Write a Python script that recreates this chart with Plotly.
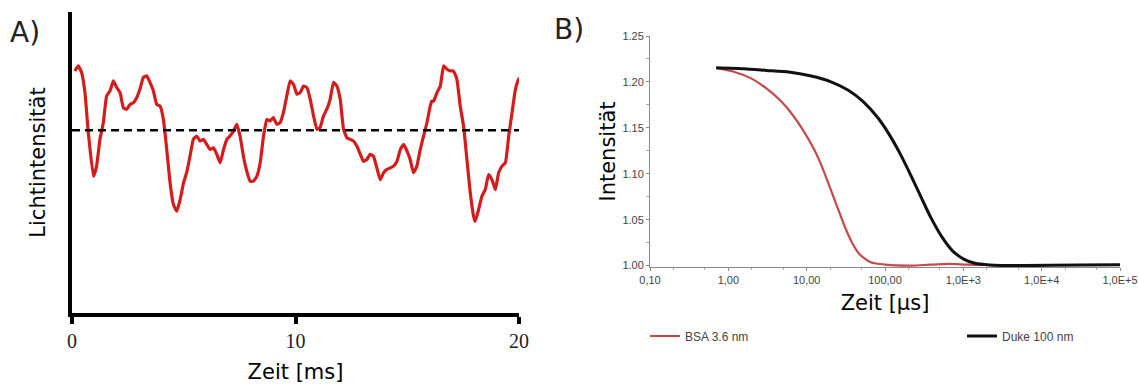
import plotly.graph_objects as go

# ---------------- Panel A data ----------------
time_ms = [0.13, 0.28, 0.43, 0.58, 0.73, 0.96, 1.10, 1.25, 1.40, 1.55, 1.70, 1.85, 2.00, 2.15, 2.30, 2.45,
           2.60, 2.75, 2.90, 3.04, 3.19, 3.34, 3.49, 3.64, 3.79, 3.94, 4.09, 4.24, 4.39, 4.54, 4.69, 4.84,
           4.99, 5.13, 5.28, 5.43, 5.58, 5.73, 5.88, 6.03, 6.18, 6.33, 6.48, 6.63, 6.78, 6.93, 7.07, 7.22,
           7.37, 7.52, 7.67, 7.82, 7.97, 8.12, 8.27, 8.42, 8.57, 8.72, 8.87, 9.01, 9.16, 9.31, 9.46, 9.61,
           9.76, 9.91, 10.06, 10.21, 10.36, 10.51, 10.66, 10.81, 10.96, 11.10, 11.25, 11.40, 11.55, 11.70,
           11.85, 12.00, 12.15, 12.30, 12.45, 12.60, 12.75, 12.90, 13.04, 13.19, 13.34, 13.49, 13.64, 13.79,
           13.94, 14.09, 14.24, 14.39, 14.54, 14.69, 14.84, 14.99, 15.13, 15.28, 15.43, 15.58, 15.73, 15.88,
           16.03, 16.10, 16.18, 16.33, 16.48, 16.63, 16.78, 16.93, 17.07, 17.22, 17.37, 17.52, 17.67, 17.82,
           17.97, 18.04, 18.19, 18.34, 18.49, 18.64, 18.79, 18.94, 19.09, 19.24, 19.39, 19.54, 19.69, 19.84,
           19.99, 20.06]
light_intensity = [8.04, 8.21, 7.99, 7.32, 5.99, 4.54, 4.88, 5.77, 6.32, 7.21, 7.38, 7.71, 7.49, 7.32, 6.82, 6.77,
                   6.93, 6.99, 7.16, 7.43, 7.82, 7.88, 7.66, 7.38, 6.93, 6.88, 6.43, 5.43, 4.32, 3.60, 3.38, 3.77,
                   4.32, 4.66, 5.21, 5.77, 5.88, 5.71, 5.77, 5.60, 5.43, 5.49, 5.27, 4.99, 5.43, 5.77, 5.88, 6.04,
                   6.27, 5.88, 5.21, 4.71, 4.38, 4.38, 4.54, 4.99, 5.88, 6.43, 6.38, 6.49, 6.27, 6.32, 6.66, 7.21,
                   7.71, 7.60, 7.27, 7.32, 7.54, 7.49, 7.10, 6.54, 6.10, 6.16, 6.54, 6.77, 7.10, 7.66,
                   7.54, 7.10, 6.10, 5.82, 5.77, 5.71, 5.54, 5.27, 5.04, 5.10, 5.27, 5.21, 4.82, 4.43,
                   4.66, 4.77, 4.82, 4.88, 5.04, 5.43, 5.60, 5.38, 5.10, 4.66, 4.88, 5.43, 5.88, 6.32,
                   6.88, 7.04, 7.04, 7.32, 7.54, 8.21, 8.10, 8.04, 8.04, 7.77, 6.88, 6.21, 5.10, 3.99,
                   3.21, 3.04, 3.43, 3.88, 4.10, 4.60, 4.43, 4.10, 4.66, 4.88, 4.99, 5.88, 6.66, 7.43,
                   7.77, 7.82]
mean_time = [0, 20]
mean_intensity = [6.07, 6.07]
a_ticks = [0, 10, 20]

# ---------------- Panel B data ----------------
bsa_t = [0.70, 1.15, 1.98, 3.07, 4.75, 6.6, 9.16, 12.7, 15.8, 19.7, 24.5, 30.5, 38, 47.3, 65.6,
         101.6, 219, 378, 653, 1122, 2187]
bsa_i = [1.215, 1.2114, 1.2036, 1.1929, 1.1786, 1.1643, 1.1464, 1.125, 1.107, 1.0857, 1.0643, 1.0429,
         1.025, 1.0125, 1.0036, 1.001, 1.000, 1.001, 1.0018, 1.001, 1.0007]
duke_t = [0.70, 1.59, 3.07, 5.9, 11.4, 19.7, 34, 52.7, 81.6, 113, 157, 219, 287, 378, 525, 728, 1011,
          1403, 2173, 5821, 30000, 100000]
duke_i = [1.2154, 1.2143, 1.2125, 1.2107, 1.2064, 1.2007, 1.191, 1.1786, 1.1607, 1.1429, 1.1214, 1.0964,
          1.075, 1.0536, 1.0321, 1.0161, 1.0071, 1.0025, 1.0007, 1.000, 1.0007, 1.001]
b_xticks = [0.1, 1, 10, 100, 1000, 10000, 100000]
b_xticklabels = ["0,10", "1,00", "10,00", "100,00", "1,0E+3", "1,0E+4", "1,0E+5"]
b_yticks = [1.00, 1.05, 1.10, 1.15, 1.20, 1.25]
b_yticklabels = ["1.00", "1.05", "1.10", "1.15", "1.20", "1.25"]

W, H = 1139, 389

def px_x(p):
    return p / W

def px_y(p):
    return (H - p) / H

fig = go.Figure()

fig.add_trace(go.Scatter(x=time_ms, y=light_intensity, mode="lines",
                         line=dict(color="#d41c1c", width=3.2, shape="spline", smoothing=0.4),
                         showlegend=False, xaxis="x", yaxis="y", hoverinfo="skip"))
fig.add_trace(go.Scatter(x=mean_time, y=mean_intensity, mode="lines",
                         line=dict(color="black", width=2.5, dash="8px,5px"),
                         showlegend=False, xaxis="x", yaxis="y", hoverinfo="skip"))

fig.add_trace(go.Scatter(x=bsa_t, y=bsa_i, mode="lines", name="BSA 3.6 nm",
                         line=dict(color="#c54a4a", width=2.2, shape="spline", smoothing=0.6),
                         xaxis="x2", yaxis="y2"))
fig.add_trace(go.Scatter(x=duke_t, y=duke_i, mode="lines", name="Duke 100 nm",
                         line=dict(color="#111111", width=3, shape="spline", smoothing=0.6),
                         xaxis="x2", yaxis="y2"))

label_font = dict(family="DejaVu Sans", size=21, color="black")

fig.update_layout(
    width=W, height=H,
    margin=dict(l=0, r=0, t=0, b=0, autoexpand=False),
    paper_bgcolor="white", plot_bgcolor="white",
    xaxis=dict(domain=[px_x(72), px_x(519)], range=[0, 20], anchor="y", automargin=False,
               showline=True, linecolor="black", linewidth=4, showgrid=False, zeroline=False,
               tickmode="array", tickvals=a_ticks, ticks="outside", ticklen=7, tickwidth=4,
               tickcolor="black", tickfont=dict(family="Liberation Serif", size=20, color="#222"),
               title=dict(text="Zeit [ms]", font=label_font, standoff=14)),
    yaxis=dict(domain=[px_y(313), px_y(12)], range=[0, 10], anchor="x", automargin=False,
               showline=True, linecolor="black", linewidth=4, showgrid=False, zeroline=False,
               showticklabels=False, ticks="",
               title=dict(text="Lichtintensität", font=label_font, standoff=18)),
    xaxis2=dict(domain=[px_x(650), px_x(1120)], type="log", range=[-1, 5], anchor="y2", automargin=False,
                showline=True, linecolor="#8a8a8a", linewidth=1, showgrid=False, zeroline=False,
                tickmode="array", tickvals=b_xticks, ticktext=b_xticklabels,
                ticks="outside", ticklen=3, tickcolor="#8a8a8a",
                minor=dict(ticks="outside", ticklen=2, tickcolor="#aaaaaa", showgrid=False),
                tickfont=dict(family="Liberation Sans", size=11, color="#444"),
                title=dict(text="Zeit [µs]", font=label_font, standoff=10)),
    yaxis2=dict(domain=[px_y(267), px_y(36)], range=[0.9985, 1.25], anchor="x2", automargin=False,
                showline=True, linecolor="#8a8a8a", linewidth=1, showgrid=False, zeroline=False,
                tickmode="array", tickvals=b_yticks, ticktext=b_yticklabels,
                ticks="outside", ticklen=3, tickcolor="#8a8a8a",
                minor=dict(dtick=0.025, ticks="outside", ticklen=3, tickcolor="#aaaaaa", showgrid=False),
                tickfont=dict(family="Liberation Sans", size=11, color="#444"),
                title=dict(text="Intensität", font=label_font, standoff=1)),
    legend=dict(orientation="h", x=px_x(645), y=px_y(336), xanchor="left", yanchor="middle",
                font=dict(family="Liberation Sans", size=12, color="#444"),
                entrywidth=272, entrywidthmode="pixels", bgcolor="rgba(0,0,0,0)"),
    annotations=[
        dict(text="A)", x=px_x(8), y=px_y(32), xref="paper", yref="paper", xanchor="left",
             yanchor="middle", showarrow=False, font=dict(family="DejaVu Sans", size=28, color="#222")),
        dict(text="B)", x=px_x(552), y=px_y(30), xref="paper", yref="paper", xanchor="left",
             yanchor="middle", showarrow=False, font=dict(family="DejaVu Sans", size=28, color="#222")),
    ],
)

fig.write_html("out.html")
